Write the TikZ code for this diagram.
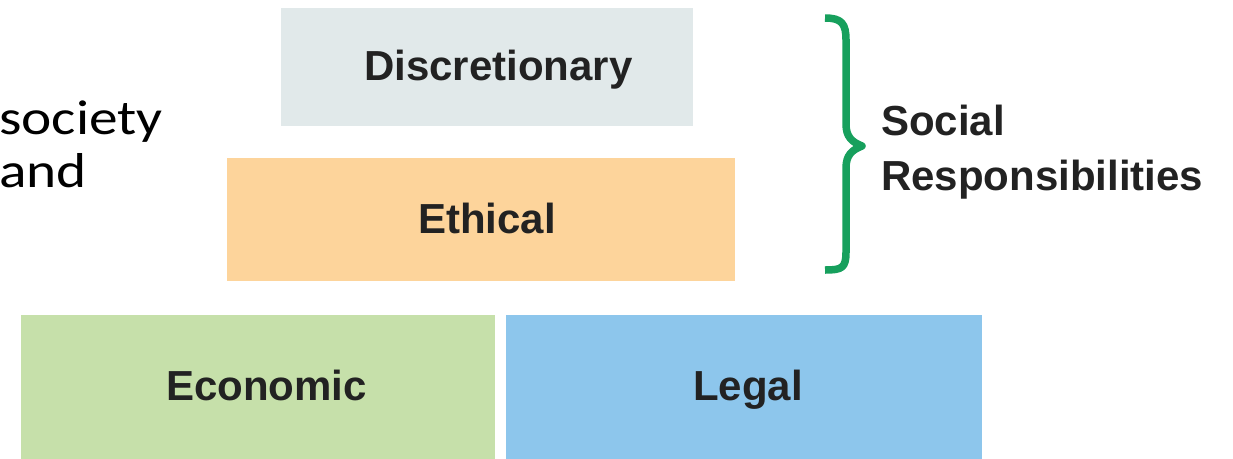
\documentclass[tikz,border=0pt]{standalone}
\usepackage{fontspec}
\setmainfont{Liberation Sans}
\newfontfamily\calfont{Carlito}[FakeStretch=1.17]
\definecolor{discfill}{HTML}{E1E9EA}
\definecolor{ethfill}{HTML}{FDD49B}
\definecolor{ecofill}{HTML}{C6E0AA}
\definecolor{legfill}{HTML}{8DC6EC}
\definecolor{bracegreen}{HTML}{17A05D}
\definecolor{inkdark}{HTML}{222222}
\tikzset{
  layerbox/.style={draw=none, inner sep=0pt, outer sep=0pt},
  lbl/.style={inner sep=0pt, anchor=base west, text=inkdark, font=\fontsize{42}{50}\selectfont\bfseries},
  sidetext/.style={inner sep=0pt, anchor=base west, text=black, font=\calfont\fontsize{49}{53}\selectfont},
  bracestyle/.style={draw=bracegreen, line width=7.5pt, line cap=butt, line join=round}
}
\begin{document}
\begin{tikzpicture}[x=1pt,y=-1pt]
\useasboundingbox (0,0) rectangle (1233,458);
\fill[white] (0,0) rectangle (1233,458);
% boxes
\node[layerbox, fill=discfill, minimum width=412pt, minimum height=118pt] (disc) at (487,67) {};
\node[layerbox, fill=ethfill, minimum width=508pt, minimum height=123pt] (eth) at (481,219.5) {};
\node[layerbox, fill=ecofill, minimum width=474pt, minimum height=145pt] (eco) at (258,387.5) {};
\node[layerbox, fill=legfill, minimum width=476pt, minimum height=145pt] (leg) at (744,387.5) {};
% labels
\node[lbl] (disctxt) at (364,80) {Discretionary};
\node[lbl] (ethtxt) at (418,233) {Ethical};
\node[lbl] (ecotxt) at (166,400) {Economic};
\node[lbl] (legtxt) at (693,400) {Legal};
% side text
\node[sidetext] (soc) at (-1,134) {society};
\node[sidetext] (andw) at (-1,187) {and};
% brace
\draw[bracestyle] (825,18) .. controls (842,18) and (846,24) .. (846,40) -- (846,124)
  .. controls (846,137) and (852,142) .. (862,146)
  .. controls (852,150) and (846,155) .. (846,168) -- (846,252)
  .. controls (846,268) and (842,270) .. (825,270);
\coordinate (bracetip) at (862,146);
\node[lbl] (social) at (881,135) {Social};
\node[lbl] (resp) at (881,190) {Responsibilities};
\end{tikzpicture}
\end{document}
